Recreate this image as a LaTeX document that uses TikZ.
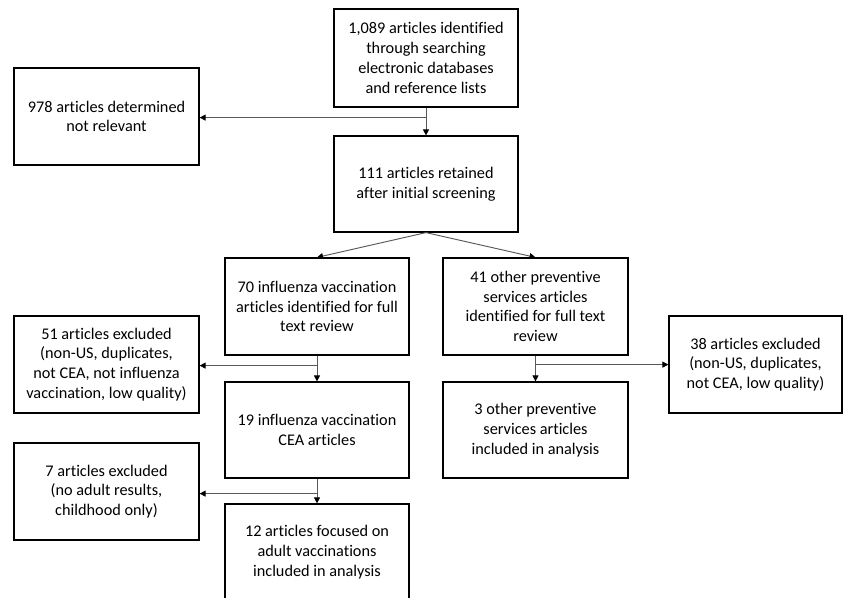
\documentclass[tikz,border=0pt]{standalone}
\usepackage{fontspec}
\setmainfont[Ligatures={NoCommon}]{Carlito}
\usetikzlibrary{arrows.meta,calc}
\begin{document}
\begin{tikzpicture}[x=0.75pt,y=-0.75pt,
  bx/.style 2 args={draw=black, line width=0.9pt, minimum width=#1, minimum height=#2,
    inner sep=0pt, align=center, font=\fontsize{12.2}{14.8}\selectfont},
  arr/.style={draw=black!65, line width=0.7pt, -{Triangle[length=4.5pt,width=4.5pt,color=black]}}]
\useasboundingbox (0,0) rectangle (843,597);
\clip (0,0) rectangle (843,597);
\fill[white] (0,0) rectangle (843,597);

\node[bx={138pt}{73.5pt}] (A) at (426,58) {1,089 articles identified\\through searching\\electronic databases\\and reference lists};
\node[bx={138.75pt}{72.75pt}] (B) at (106.5,116.5) {978 articles determined\\not relevant};
\node[bx={138pt}{72pt}] (C) at (426,184) {111 articles retained\\after initial screening};
\node[bx={138pt}{72.75pt}] (D) at (317,306.5) {70 influenza vaccination\\articles identified for full\\text review};
\node[bx={138.75pt}{72.75pt}] (E) at (535.5,306.5) {41 other preventive\\services articles\\identified for full text\\review};
\node[bx={138.75pt}{72.75pt}] (F) at (106.5,364.5) {51 articles excluded\\(non-US, duplicates,\\not CEA, not influenza\\vaccination, low quality)};
\node[bx={129.75pt}{72.75pt}] (I) at (755.5,364.5) {38 articles excluded\\(non-US, duplicates,\\not CEA, low quality)};
\node[bx={138pt}{72pt}] (G) at (317,430) {19 influenza vaccination\\CEA articles};
\node[bx={138.75pt}{72pt}] (H) at (535.5,430) {3 other preventive\\services articles\\included in analysis};
\node[bx={138.75pt}{72.75pt}] (J) at (106.5,491.5) {7 articles excluded\\(no adult results,\\childhood only)};
\node[bx={138pt}{72pt}] (K) at (317,552) {12 articles focused on\\adult vaccinations\\included in analysis};

% connectors
\coordinate (s1) at ($(A.south)+(0,10)$);
\draw[arr] (A.south) -- (C.north);
\draw[arr] (s1) -- (s1 -| B.east);

\draw[arr] (C.south) -- (D.north);
\draw[arr] (C.south) -- (E.north);

\coordinate (s2) at ($(D.south)+(0,10)$);
\draw[arr] (D.south) -- (G.north);
\draw[arr] (s2) -- (s2 -| F.east);

\coordinate (s3) at ($(E.south)+(0,9)$);
\draw[arr] (E.south) -- (H.north);
\draw[arr] (s3) -- (s3 -| I.west);

\coordinate (s4) at ($(G.south)+(0,15)$);
\draw[arr] (G.south) -- (K.north);
\draw[arr] (s4) -- (s4 -| J.east);
\end{tikzpicture}
\end{document}
